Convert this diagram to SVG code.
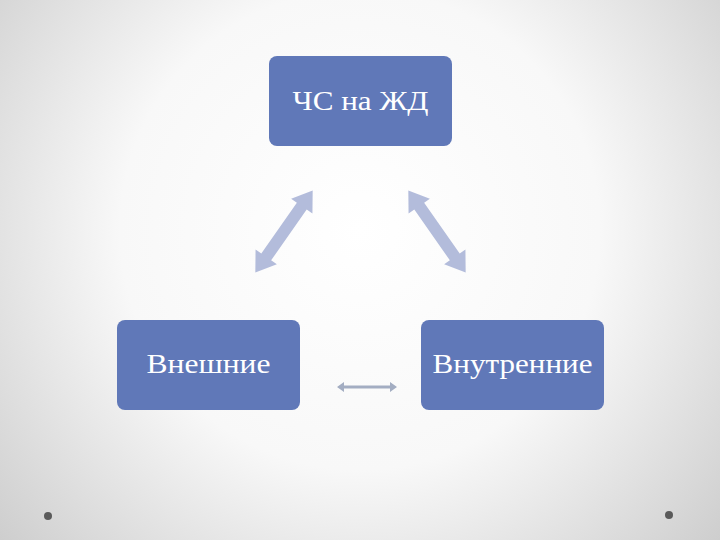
<svg xmlns="http://www.w3.org/2000/svg" width="720" height="540" viewBox="0 0 720 540">
<defs>
<radialGradient id="bg" cx="360" cy="230" r="480" gradientUnits="userSpaceOnUse">
<stop offset="0" stop-color="#ffffff"/>
<stop offset="0.5" stop-color="#f8f8f8"/>
<stop offset="1" stop-color="#cdcdcd"/>
</radialGradient>
<style>
.node{fill:#6078b8;}
.lbl{font-family:"Liberation Serif","Times New Roman",serif;font-size:28px;fill:#ffffff;text-anchor:middle;}
.big{fill:#b3bcdb;}
.dot{fill:#5a5a5a;}
</style>
</defs>
<rect width="720" height="540" fill="url(#bg)"/>
<circle class="dot" cx="48" cy="516" r="4"/>
<circle class="dot" cx="669" cy="515" r="4"/>
<g id="connectors">
<polygon class="big" transform="translate(284,231.5) rotate(-55)" points="-50,0 -31,-13 -31,-6 31,-6 31,-13 50,0 31,13 31,6 -31,6 -31,13"/>
<polygon class="big" transform="translate(437,231.5) rotate(55)" points="-50,0 -31,-13 -31,-6 31,-6 31,-13 50,0 31,13 31,6 -31,6 -31,13"/>
<polygon fill="#a3adc2" points="337,387 344,382 344,385.5 390,385.5 390,382 397,387 390,392 390,388.5 344,388.5 344,392"/>
</g>
<g id="node-top">
<rect class="node" x="269" y="56" width="183" height="90" rx="8"/>
<text class="lbl" x="360.5" y="110" textLength="136" lengthAdjust="spacingAndGlyphs">ЧС на ЖД</text>
</g>
<g id="node-left">
<rect class="node" x="117" y="320" width="183" height="90" rx="8"/>
<text class="lbl" x="208.5" y="373" textLength="124" lengthAdjust="spacingAndGlyphs">Внешние</text>
</g>
<g id="node-right">
<rect class="node" x="421" y="320" width="183" height="90" rx="8"/>
<text class="lbl" x="512.5" y="373" textLength="160" lengthAdjust="spacingAndGlyphs">Внутренние</text>
</g>
</svg>
